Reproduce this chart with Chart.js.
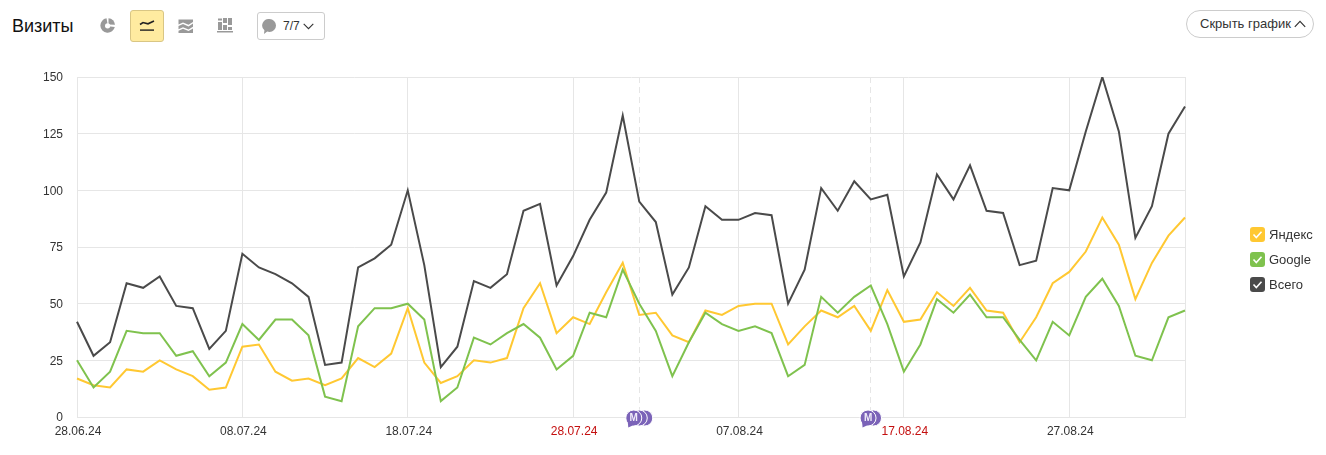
<!DOCTYPE html>
<html lang="ru">
<head>
<meta charset="utf-8">
<title>Визиты</title>
<script src="https://cdn.jsdelivr.net/npm/chart.js@4"></script>
<style>
  html, body { margin: 0; padding: 0; background: #fff; }
  body { position: relative; width: 1326px; height: 455px; overflow: hidden; font-family: "Liberation Sans", Arial, sans-serif; color: #333; }
  canvas { position: absolute; left: 0; top: 0; }
  .title { position: absolute; left: 12px; top: 16px; font-size: 18px; line-height: 20px; color: #111; }
  .icon { position: absolute; }
  .active { position: absolute; left: 130px; top: 10px; width: 32px; height: 30px; background: #ffeba0; border: 1px solid #d9c684; border-radius: 3px; }
  .notes { position: absolute; left: 257px; top: 12px; width: 66px; height: 26px; border: 1px solid #ccc; border-radius: 3px; font-size: 12px; line-height: 26px; }
  .notes span { position: absolute; left: 25px; }
  .hide { position: absolute; left: 1186px; top: 10px; width: 126px; height: 26px; border: 1px solid #ccc; border-radius: 14px; font-size: 13px; line-height: 26px; }
  .hide span { position: absolute; left: 13px; white-space: nowrap; }
  #legend { position: absolute; left: 1250px; top: 227px; font-size: 13px; color: #333; }
  .item { position: relative; height: 25px; line-height: 15px; padding-left: 19px; white-space: nowrap; }
  .box { position: absolute; left: 0; top: 0; width: 15px; height: 15px; border-radius: 3px; }
</style>
</head>
<body>
<div class="title">Визиты</div>

<svg class="icon" style="left:100px;top:18px" width="16" height="15" viewBox="0 0 16 15">
  <path d="M6.5 .3A7.3 7.3 0 1 0 14.8 9L8 8.2z" fill="#999"/><path d="M8.5 .2A7 7 0 0 1 15 6.8L8.5 6.5z" fill="#999"/><circle cx="7.6" cy="7.8" r="2.6" fill="#fff"/>
</svg>
<div class="active"></div>
<svg class="icon" style="left:139px;top:18px" width="16" height="15" viewBox="0 0 16 15">
  <path d="M1 6.5 L4 4.5 L9 5.8 L15 3" fill="none" stroke="#222" stroke-width="1.6"/><rect x="1" y="11.4" width="14" height="1.4" fill="#222"/>
</svg>
<svg class="icon" style="left:178px;top:18px" width="16" height="16" viewBox="0 0 16 16">
  <path d="M.5 1.5H15V4L10.5 6.8 5 4.5 .5 6.5z M.5 8 5 6 10.5 8.5 15 5.6V8.8L10.5 11.5 5 9.3 .5 11.3z M.5 12.8 5 10.8 10.5 13 15 10.4V15H.5z" fill="#999"/>
</svg>
<svg class="icon" style="left:217px;top:18px" width="16" height="15" viewBox="0 0 16 15">
  <path d="M1 .5h4v2H1z M1 4h4v8H1z M6 0h4v5H6z M6 7h4v5H6z M11 0h4v7h-4z M11 9h4v3h-4z M0 13h16v1.4H0z" fill="#999"/>
</svg>
<div class="notes">
  <svg class="icon" style="left:4px;top:5px" width="15" height="17" viewBox="0 0 15 17">
    <path d="M7.5 1a6.5 6.5 0 0 1 0 13c-.8 0-1.6-.1-2.3-.4L2 16l.4-3.7A6.5 6.5 0 0 1 7.5 1z" fill="#999"/>
  </svg>
  <span>7/7</span>
  <svg class="icon" style="left:45px;top:10px" width="11" height="7" viewBox="0 0 11 7">
    <path d="M.7.8 5.5 5.6 10.3.8" fill="none" stroke="#333" stroke-width="1.1"/>
  </svg>
</div>
<div class="hide">
  <span>Скрыть график</span>
  <svg class="icon" style="left:107px;top:9px" width="12" height="8" viewBox="0 0 12 8">
    <path d="M.8 6.8 6 1.4 11.2 6.8" fill="none" stroke="#333" stroke-width="1.2"/>
  </svg>
</div>

<canvas id="chart" width="1326" height="455"></canvas>
<div id="legend"></div>

<script>
const categories = [
  '28.06.24','29.06.24','30.06.24','01.07.24','02.07.24','03.07.24','04.07.24','05.07.24','06.07.24','07.07.24',
  '08.07.24','09.07.24','10.07.24','11.07.24','12.07.24','13.07.24','14.07.24','15.07.24','16.07.24','17.07.24',
  '18.07.24','19.07.24','20.07.24','21.07.24','22.07.24','23.07.24','24.07.24','25.07.24','26.07.24','27.07.24',
  '28.07.24','29.07.24','30.07.24','31.07.24','01.08.24','02.08.24','03.08.24','04.08.24','05.08.24','06.08.24',
  '07.08.24','08.08.24','09.08.24','10.08.24','11.08.24','12.08.24','13.08.24','14.08.24','15.08.24','16.08.24',
  '17.08.24','18.08.24','19.08.24','20.08.24','21.08.24','22.08.24','23.08.24','24.08.24','25.08.24','26.08.24',
  '27.08.24','28.08.24','29.08.24','30.08.24','31.08.24','01.09.24','02.09.24','03.09.24'
];
const yandex = [17,14,13,21,20,25,21,18,12,13,31,32,20,16,17,14,17,26,22,28,48,24,15,18,25,24,26,48,59,37,44,41,55,68,45,46,36,33,47,45,49,50,50,32,40,47,44,49,38,56,42,43,55,49,57,47,46,33,44,59,64,73,88,76,52,68,80,88];
const google = [25,13,20,38,37,37,27,29,18,24,41,34,43,43,36,9,7,40,48,48,50,43,7,13,35,32,37,41,35,21,27,46,44,65,50,38,18,33,46,41,38,40,37,18,23,53,46,53,58,41,20,32,52,46,54,44,44,34,25,42,36,53,61,49,27,25,44,47];
const total = [42,27,33,59,57,62,49,48,30,38,72,66,63,59,53,23,24,66,70,76,100,67,22,31,60,57,63,91,94,58,71,87,99,133,95,86,54,66,93,87,87,90,89,50,65,101,91,104,96,98,62,77,107,96,111,91,90,67,69,101,100,126,150,126,79,93,125,137];

const yTicks = [0, 25, 50, 75, 100, 125, 150];
const tickEvery = 10;
const redDates = ['28.07.24', '17.08.24'];
const noteDates = ['01.08.24', '15.08.24'];
const noteCounts = [3, 2];

const gridColor = '#e6e6e6';
const legendItems = [
  { label: 'Яндекс', color: '#ffc832' },
  { label: 'Google', color: '#7fc24e' },
  { label: 'Всего', color: '#4a4a4a' }
];

// dashed lines and right border go under the series, note bubbles on top
const notesPlugin = {
  id: 'notes',
  beforeDatasetsDraw(chart) {
    const { ctx, chartArea, scales } = chart;
    ctx.save();
    ctx.strokeStyle = gridColor;
    ctx.lineWidth = 1;
    ctx.beginPath();
    ctx.moveTo(chartArea.right + 0.5, chartArea.top);
    ctx.lineTo(chartArea.right + 0.5, chartArea.bottom);
    ctx.stroke();
    ctx.setLineDash([6, 4]);
    noteDates.forEach(d => {
      const x = Math.floor(scales.x.getPixelForValue(categories.indexOf(d))) + 0.5;
      ctx.beginPath();
      ctx.moveTo(x, chartArea.top);
      ctx.lineTo(x, chartArea.bottom);
      ctx.stroke();
    });
    ctx.restore();
  },
  afterDatasetsDraw(chart) {
    const { ctx, chartArea, scales } = chart;
    const y = chartArea.bottom + 1;
    noteDates.forEach((d, n) => {
      const cx = scales.x.getPixelForValue(categories.indexOf(d));
      const count = noteCounts[n];
      const step = 5.5;
      const first = cx - (count - 1) * step / 2;
      for (let i = count - 1; i >= 0; i--) {
        const x = first + i * step;
        ctx.save();
        ctx.fillStyle = '#7b63b8';
        ctx.strokeStyle = '#fff';
        ctx.lineWidth = 1;
        ctx.beginPath();
        ctx.arc(x, y, 8, 0, Math.PI * 2);
        ctx.fill();
        ctx.stroke();
        if (i === 0) {
          ctx.beginPath();
          ctx.moveTo(x - 6, y + 3);
          ctx.lineTo(x - 5.5, y + 9.5);
          ctx.lineTo(x, y + 7);
          ctx.closePath();
          ctx.fill();
          ctx.fillStyle = '#f0ecf8';
          ctx.font = 'bold 10px "Liberation Sans", Arial, sans-serif';
          ctx.textAlign = 'center';
          ctx.textBaseline = 'middle';
          ctx.fillText('М', x, y + 0.5);
        }
        ctx.restore();
      }
    });
  }
};

new Chart(document.getElementById('chart'), {
  type: 'line',
  plugins: [notesPlugin],
  data: {
    labels: categories,
    datasets: [
      { label: 'Всего', data: total, borderColor: '#4a4a4a' },
      { label: 'Google', data: google, borderColor: '#7fc24e' },
      { label: 'Яндекс', data: yandex, borderColor: '#ffc832' }
    ]
  },
  options: {
    responsive: false,
    animation: false,
    layout: { padding: { top: 77, right: 141, bottom: 0, left: 0 } },
    elements: {
      line: { borderWidth: 2, tension: 0, fill: false },
      point: { radius: 0 }
    },
    plugins: { legend: { display: false }, tooltip: { enabled: false } },
    scales: {
      x: {
        type: 'category',
        offset: false,
        afterBuildTicks: scale => {
          scale.ticks = scale.ticks.filter(t => t.value % tickEvery === 0);
        },
        afterFit: scale => { scale.height = 38; },
        grid: { color: gridColor, lineWidth: 1, drawTicks: false },
        border: { color: gridColor },
        ticks: {
          autoSkip: false,
          maxRotation: 0,
          minRotation: 0,
          padding: 7,
          labelOffset: 1,
          color: ctx => redDates.includes(categories[ctx.tick.value]) ? '#c40f0f' : '#333',
          font: { family: '"Liberation Sans", Arial, sans-serif', size: 12 }
        }
      },
      y: {
        min: 0,
        max: 150,
        afterBuildTicks: scale => { scale.ticks = yTicks.map(v => ({ value: v })); },
        afterFit: scale => { scale.width = 77; },
        grid: { color: gridColor, lineWidth: 1, drawTicks: false },
        border: { color: gridColor },
        ticks: {
          padding: 14,
          labelOffset: 1,
          color: '#333',
          font: { family: '"Liberation Sans", Arial, sans-serif', size: 12 }
        }
      }
    }
  }
});

const legend = document.getElementById('legend');
legendItems.forEach(it => {
  const row = document.createElement('div');
  row.className = 'item';
  row.innerHTML = '<div class="box" style="background:' + it.color + '">' +
    '<svg width="15" height="15" viewBox="0 0 15 15"><path d="M3.5 7.5 6.3 10.5 11.5 4.8" fill="none" stroke="#fff" stroke-width="1.6"/></svg></div>' + it.label;
  legend.appendChild(row);
});
</script>
</body>
</html>
